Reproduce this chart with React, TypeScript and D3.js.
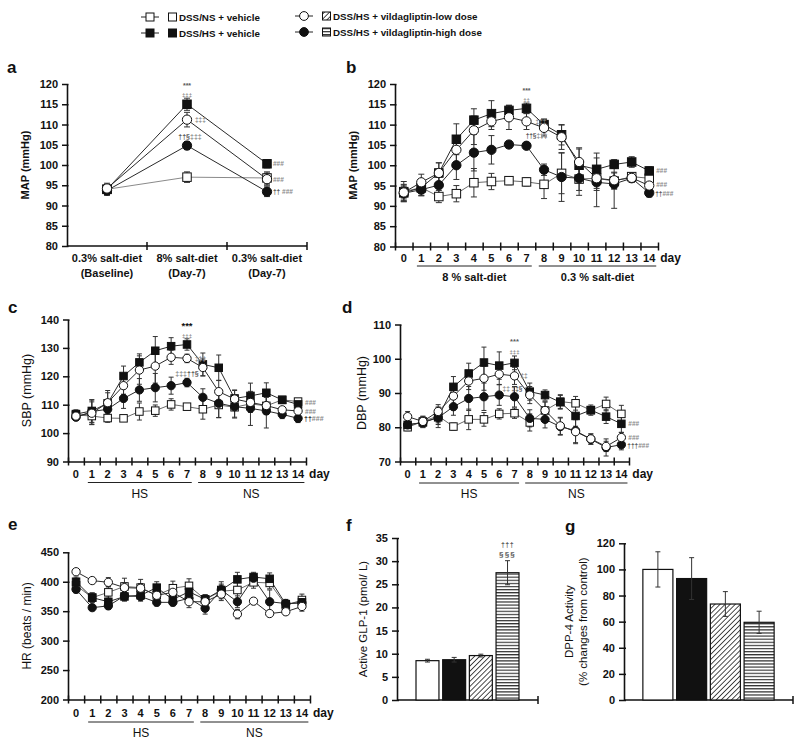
import React, { useEffect, useRef } from "react";
import * as d3 from "d3";

const FONT = "'Liberation Sans', Arial, Helvetica, sans-serif";

// groups (legend order)
const groupKeys = ["ns", "hs", "low", "high"];
const groupNames = [
  "DSS/NS + vehicle",
  "DSS/HS + vehicle",
  "DSS/HS + vildagliptin-low dose",
  "DSS/HS + vildagliptin-high dose",
];

// panel a: MAP at three stages
const stagesA = ["base", "hs7", "ns7"];
const stageLabels = [
  ["0.3% salt-diet", "(Baseline)"],
  ["8% salt-diet", "(Day-7)"],
  ["0.3% salt-diet", "(Day-7)"],
];
const mapA_ns = [94.0, 97.0, 96.8];
const mapA_hs = [94.0, 115.0, 100.3];
const mapA_low = [94.2, 111.2, 96.5];
const mapA_high = [93.7, 104.8, 93.4];
const mapA_nsErr = [1.5, 1.3, 1.5];
const mapA_hsErr = [1.2, 1.5, 1.0];
const mapA_lowErr = [1.0, 1.8, 1.5];
const mapA_highErr = [1.0, 1.0, 1.2];

// daily time course
const days = [0, 1, 2, 3, 4, 5, 6, 7, 8, 9, 10, 11, 12, 13, 14];

// panel b: MAP
const mapB_ns = [93.5, 94.5, 92.3, 93.0, 95.7, 96.0, 96.2, 95.9, 95.3, 98.0, 96.6, 96.8, 96.1, 97.2, 96.8];
const mapB_hs = [93.2, 94.5, 98.1, 106.4, 111.1, 112.7, 113.5, 114.0, 110.0, 107.5, 100.0, 99.0, 100.2, 100.8, 98.6];
const mapB_low = [93.3, 95.8, 98.1, 103.8, 108.6, 110.8, 111.8, 110.8, 109.2, 106.9, 100.8, 96.8, 96.3, 96.9, 95.0];
const mapB_high = [93.1, 94.0, 95.1, 100.0, 103.1, 103.8, 105.1, 104.8, 98.9, 97.1, 96.8, 95.8, 95.4, 96.8, 93.2];
const mapB_nsErr = [2.5, 2, 1.5, 2, 3.5, 2, 1, 1, 3.5, 5, 4, 3, 2, 1, 1.5];
const mapB_hsErr = [1.5, 1.5, 2.5, 3.8, 2.8, 3.2, 1.2, 1.3, 1.4, 2.5, 4, 4, 1, 1.3, 1];
const mapB_lowErr = [2, 2, 2.5, 3, 3.5, 2, 3, 2, 2, 3, 3.5, 2.5, 2, 1, 1.5];
const mapB_highErr = [2, 1.5, 2, 3.5, 4.5, 3.5, 0.8, 0.8, 1.4, 6, 3, 6, 6, 1, 1];

// panel c: SBP
const sbp_ns = [106.4, 106.0, 105.3, 105.2, 107.6, 107.9, 110.1, 109.3, 108.4, 109.9, 109.1, 110.3, 109.6, 111.7, 111.1];
const sbp_hs = [106.7, 107.8, 110.5, 120.1, 124.9, 129.0, 130.6, 131.2, 124.2, 123.0, 112.2, 113.1, 114.2, 111.7, 110.1];
const sbp_low = [106.0, 107.0, 110.7, 116.7, 122.2, 123.6, 126.7, 126.3, 123.1, 114.6, 112.0, 110.8, 109.7, 108.2, 107.8];
const sbp_high = [105.6, 107.6, 108.4, 112.2, 115.2, 116.0, 116.7, 117.8, 112.6, 110.5, 109.3, 108.7, 107.8, 106.6, 105.2];
const sbp_nsErr = [1.5, 3, 1.5, 1, 3, 2, 2, 1, 3.5, 4.5, 3.5, 3, 3, 1, 1];
const sbp_hsErr = [1.5, 4, 4.5, 3.5, 3, 5, 3, 2, 4, 4.5, 3, 4.5, 3.5, 1, 1];
const sbp_lowErr = [1.5, 4, 3.5, 3, 5, 6, 2.5, 1.5, 3, 4, 3, 3, 3, 1, 1];
const sbp_highErr = [1, 4, 2, 3.5, 4, 5, 3, 1.5, 3, 5, 4, 6, 6, 1.5, 1.5];

// panel d: DBP
const dbp_ns = [80.0, 81.7, 83.3, 80.2, 82.3, 82.3, 83.9, 84.1, 81.4, 84.9, 87.5, 87.0, 85.0, 86.8, 83.9];
const dbp_hs = [80.7, 81.4, 82.9, 91.8, 95.7, 98.9, 98.0, 98.8, 90.4, 89.4, 87.3, 83.3, 85.0, 83.1, 81.0];
const dbp_low = [83.1, 81.7, 84.6, 89.1, 93.5, 94.3, 95.5, 95.0, 89.4, 84.9, 80.4, 78.7, 76.6, 74.4, 77.0];
const dbp_high = [80.7, 81.4, 82.8, 86.0, 88.4, 88.9, 89.4, 88.9, 82.6, 82.3, 80.2, 79.0, 76.5, 74.1, 74.9];
const dbp_nsErr = [1, 1.5, 2.5, 1, 3, 2, 1.5, 1.5, 2.5, 2.5, 2, 2, 1.5, 2, 2.5];
const dbp_hsErr = [1, 1.5, 3, 3, 3, 4.5, 4, 2, 2.5, 1.5, 2, 3, 1, 2, 2.5];
const dbp_lowErr = [1.5, 1.5, 2, 2.5, 2.5, 3.5, 3, 2.5, 2.5, 2.5, 2.5, 3.5, 1.5, 1.5, 1.5];
const dbp_highErr = [1, 1.5, 1.5, 2.5, 3.5, 4, 3, 3, 2.5, 2.5, 2.5, 3.5, 1.5, 2.5, 1.5];

// panel e: HR
const hr_ns = [394, 373, 382, 392, 390, 377, 389, 393, 370, 384, 386, 399, 398, 360, 369];
const hr_hs = [400, 373, 366, 375, 377, 390, 370, 383, 370, 386, 404, 408, 405, 362, 365];
const hr_low = [417, 402, 399, 390, 389, 377, 382, 366, 366, 379, 345, 367, 346, 349, 358];
const hr_high = [387, 356, 359, 376, 375, 365, 365, 372, 355, 386, 366, 406, 366, 363, 364];
const hr_nsErr = [8, 8, 10, 14, 14, 10, 12, 12, 8, 16, 16, 10, 10, 8, 10];
const hr_hsErr = [8, 8, 10, 8, 8, 10, 8, 10, 8, 10, 12, 8, 10, 8, 8];
const hr_lowErr = [5, 5, 8, 8, 8, 8, 10, 10, 8, 8, 8, 5, 5, 5, 8];
const hr_highErr = [6, 5, 6, 8, 8, 6, 6, 8, 10, 8, 10, 8, 20, 6, 6];

// panel f / g: bars
const glp1 = [8.5, 8.7, 9.6, 27.5];
const glp1Err = [0.3, 0.5, 0.3, 2.6];
const dpp4 = [100, 93, 73.5, 59.5];
const dpp4Err = [13.5, 16, 9.5, 8.5];

const markerStyle: any = {
  ns: { shape: "square", fill: "#fff", line: "#6a6a6a" },
  hs: { shape: "square", fill: "#111", line: "#2a2a2a" },
  low: { shape: "circle", fill: "#fff", line: "#2a2a2a" },
  high: { shape: "circle", fill: "#111", line: "#2a2a2a" },
};
const barFill: any = { ns: "#fff", hs: "#111", low: "url(#diag)", high: "url(#hstripe)" };
const drawOrder = ["ns", "hs", "high", "low"];

const marker = (g: any, key: string, cx: number, cy: number, size: number) => {
  const s = markerStyle[key];
  if (s.shape === "square") {
    g.append("rect")
      .attr("x", cx - size / 2).attr("y", cy - size / 2)
      .attr("width", size).attr("height", size)
      .attr("fill", s.fill).attr("stroke", "#111").attr("stroke-width", 1);
  } else {
    g.append("circle")
      .attr("cx", cx).attr("cy", cy).attr("r", size / 2 + 0.4)
      .attr("fill", s.fill).attr("stroke", "#111").attr("stroke-width", 1);
  }
};

const errorBar = (g: any, cx: number, y1: number, y2: number, cap: number) => {
  g.append("line").attr("x1", cx).attr("x2", cx).attr("y1", y1).attr("y2", y2)
    .attr("stroke", "#333").attr("stroke-width", 1);
  [y1, y2].forEach((yy) =>
    g.append("line").attr("x1", cx - cap / 2).attr("x2", cx + cap / 2).attr("y1", yy).attr("y2", yy)
      .attr("stroke", "#333").attr("stroke-width", 1)
  );
};

const styleAxis = (ax: any, size = 11) => {
  ax.select(".domain").attr("stroke", "#111").attr("stroke-width", 1.6);
  ax.selectAll(".tick line").attr("stroke", "#111").attr("stroke-width", 1.5);
  ax.selectAll(".tick text")
    .attr("font-family", FONT).attr("font-size", size).attr("font-weight", "bold").attr("fill", "#111");
};

const label = (g: any, x: number, y: number, t: string, o: any = {}) =>
  g.append("text").attr("x", x).attr("y", y)
    .attr("font-family", FONT)
    .attr("font-size", o.size || 11)
    .attr("font-weight", o.weight || "normal")
    .attr("fill", o.color || "#111")
    .attr("text-anchor", o.anchor || "start")
    .attr("letter-spacing", o.ls || 0)
    .text(t);

// mixed-colour annotation (segments of [text, colour])
const note = (g: any, x: number, y: number, segs: [string, string][], size = 7, anchor = "start") => {
  const t = g.append("text").attr("x", x).attr("y", y)
    .attr("font-family", FONT).attr("font-size", size).attr("font-weight", "bold")
    .attr("text-anchor", anchor);
  segs.forEach(([s, c]) => t.append("tspan").attr("fill", c).text(s));
  return t;
};

const yTitle = (g: any, cx: number, cy: number, lines: string[], o: any = {}) => {
  const t = g.append("text")
    .attr("transform", `translate(${cx},${cy}) rotate(-90)`)
    .attr("text-anchor", "middle")
    .attr("font-family", FONT)
    .attr("font-size", o.size || 12)
    .attr("font-weight", o.weight || "normal")
    .attr("fill", "#111");
  lines.forEach((l, i) =>
    t.append("tspan").attr("x", 0).attr("dy", i === 0 ? "0.35em" : (o.gap || 14)).text(l)
  );
};

const G1 = "#8a8a8a"; // light annotation grey
const G2 = "#5a5a5a";

const dayPanel = (root: any, o: any) => {
  const x = d3.scaleLinear().domain([-0.5, 14.5]).range([o.left, o.right]);
  const y = d3.scaleLinear().domain(o.yDomain).range([o.bottom, o.top]);
  const g = root.append("g");

  const ya = g.append("g").attr("transform", `translate(${o.left},0)`)
    .call(d3.axisLeft(y).tickValues(o.yTicks).tickSizeInner(5).tickSizeOuter(0).tickPadding(4));
  styleAxis(ya);
  ya.selectAll(".tick line").attr("x1", 1.5);

  const xa = g.append("g").attr("transform", `translate(0,${o.bottom})`)
    .call(d3.axisBottom(x).tickValues(d3.range(-0.5, 15, 1)).tickSizeInner(4).tickSizeOuter(0).tickFormat(() => ""));
  styleAxis(xa);
  xa.selectAll(".tick line").attr("y1", -4).attr("y2", 4);

  days.forEach((d) => label(g, x(d), o.dayY, String(d), { size: 11, weight: "bold", anchor: "middle" }));
  label(g, x(14) + 11, o.dayY, "day", { size: 12, weight: "bold" });

  const phases: [number, number, string][] = [
    [0.75, 7.3, o.phases[0]],
    [7.7, 14.4, o.phases[1]],
  ];
  phases.forEach(([a, b, t]) => {
    g.append("line").attr("x1", x(a)).attr("x2", x(b)).attr("y1", o.lineY).attr("y2", o.lineY)
      .attr("stroke", "#222").attr("stroke-width", 1);
    label(g, (x(a) + x(b)) / 2, o.phaseY, t, { size: o.phaseSize, weight: o.phaseWeight, anchor: "middle" });
  });

  yTitle(g, o.yTitleX, (o.top + o.bottom) / 2, [o.yTitle], { size: o.yTitleSize, weight: o.yTitleWeight });
  label(g, o.letterX, o.letterY, o.letter, { size: 17, weight: "bold" });

  const line = d3.line<number>().x((_, i) => x(days[i])).y((v) => y(v));
  drawOrder.forEach((k) => {
    g.append("path").attr("d", line(o.series[k].v)).attr("fill", "none")
      .attr("stroke", markerStyle[k].line).attr("stroke-width", 1);
  });
  drawOrder.forEach((k) => {
    const s = o.series[k];
    s.v.forEach((v: number, i: number) => errorBar(g, x(days[i]), y(v + s.e[i]), y(v - s.e[i]), o.cap));
  });
  drawOrder.forEach((k) => {
    o.series[k].v.forEach((v: number, i: number) => marker(g, k, x(days[i]), y(v), o.mk));
  });
  return { g, x, y };
};

const barPanel = (root: any, o: any) => {
  const x = d3.scaleBand().domain(groupKeys).range(o.bandRange).paddingInner(o.pi).paddingOuter(o.po);
  const y = d3.scaleLinear().domain(o.yDomain).range([o.bottom, o.top]);
  const g = root.append("g");
  const ya = g.append("g").attr("transform", `translate(${o.left},0)`)
    .call(d3.axisLeft(y).tickValues(o.yTicks).tickSizeInner(5).tickSizeOuter(0).tickPadding(4));
  styleAxis(ya, o.tickSize || 11);
  ya.selectAll(".tick line").attr("x1", 2);
  g.append("line").attr("x1", o.left).attr("x2", o.right).attr("y1", o.bottom).attr("y2", o.bottom)
    .attr("stroke", "#111").attr("stroke-width", 1.6);
  g.append("line").attr("x1", o.right).attr("x2", o.right).attr("y1", o.bottom - 4).attr("y2", o.bottom + 4)
    .attr("stroke", "#111").attr("stroke-width", 1.5);

  groupKeys.forEach((k, i) => {
    const v = o.values[i];
    g.append("rect")
      .attr("x", x(k)).attr("y", y(v)).attr("width", x.bandwidth()).attr("height", y(0) - y(v))
      .attr("fill", barFill[k]).attr("stroke", "#111").attr("stroke-width", 1.2);
  });
  groupKeys.forEach((k, i) => {
    const v = o.values[i];
    const cx = (x(k) as number) + x.bandwidth() / 2;
    errorBar(g, cx, y(v + o.errors[i]), y(v - o.errors[i]), 5);
  });
  yTitle(g, o.yTitleX, (o.top + o.bottom) / 2, o.yTitle, { size: 11.5, gap: 14 });
  label(g, o.letterX, o.letterY, o.letter, { size: 17, weight: "bold" });
  return { g, x, y };
};

const App = () => {
  const ref = useRef<SVGSVGElement>(null);

  useEffect(() => {
    const svg = d3.select(ref.current);
    svg.selectAll("*").remove();
    svg.append("rect").attr("width", 800).attr("height", 742).attr("fill", "#fff");

    const defs = svg.append("defs");
    const diag = defs.append("pattern").attr("id", "diag").attr("patternUnits", "userSpaceOnUse")
      .attr("width", 3.6).attr("height", 3.6).attr("patternTransform", "rotate(45)");
    diag.append("rect").attr("width", 3.6).attr("height", 3.6).attr("fill", "#fff");
    diag.append("line").attr("x1", 0).attr("y1", 0).attr("x2", 0).attr("y2", 3.6)
      .attr("stroke", "#111").attr("stroke-width", 1.5);
    const hs = defs.append("pattern").attr("id", "hstripe").attr("patternUnits", "userSpaceOnUse")
      .attr("width", 4).attr("height", 3.1);
    hs.append("rect").attr("width", 4).attr("height", 3.1).attr("fill", "#fff");
    hs.append("line").attr("x1", 0).attr("x2", 4).attr("y1", 0.6).attr("y2", 0.6)
      .attr("stroke", "#333").attr("stroke-width", 1.2);

    // ---------- legend ----------
    const lg = svg.append("g");
    const legendPos = [
      [150, 17],
      [150, 33],
      [304, 16],
      [304, 32],
    ];
    groupKeys.forEach((k, i) => {
      const [mx, my] = legendPos[i];
      lg.append("line").attr("x1", mx - 9).attr("x2", mx + 9).attr("y1", my).attr("y2", my)
        .attr("stroke", "#222").attr("stroke-width", 1);
      marker(lg, k, mx, my, 8);
      lg.append("rect").attr("x", mx + 18.5).attr("y", my - 4).attr("width", 8).attr("height", 8)
        .attr("fill", barFill[k]).attr("stroke", "#111").attr("stroke-width", 1);
      label(lg, mx + 29, my + 3.5, groupNames[i], { size: 9.8, weight: "bold" });
    });

    // ---------- panel a ----------
    {
      const left = 67, right = 307, top = 84, bottom = 246;
      const x = d3.scaleBand().domain(stagesA).range([left, right]);
      const y = d3.scaleLinear().domain([80, 120]).range([bottom, top]);
      const g = svg.append("g");
      const ya = g.append("g").attr("transform", `translate(${left},0)`)
        .call(d3.axisLeft(y).tickValues([80, 85, 90, 95, 100, 105, 110, 115, 120]).tickSizeInner(5).tickSizeOuter(0).tickPadding(4));
      styleAxis(ya);
      ya.selectAll(".tick line").attr("x1", 1.5);
      g.append("line").attr("x1", left).attr("x2", right).attr("y1", bottom).attr("y2", bottom)
        .attr("stroke", "#111").attr("stroke-width", 1.6);
      stagesA.forEach((s) => {
        const tx = (x(s) as number) + x.step();
        g.append("line").attr("x1", tx).attr("x2", tx).attr("y1", bottom - 4).attr("y2", bottom + 4)
          .attr("stroke", "#111").attr("stroke-width", 1.5);
      });
      const cx = (s: string) => (x(s) as number) + x.bandwidth() / 2;
      stagesA.forEach((s, i) => {
        label(g, cx(s), 262, stageLabels[i][0], { size: 11, weight: "bold", anchor: "middle" });
        label(g, cx(s), 277, stageLabels[i][1], { size: 11, weight: "bold", anchor: "middle" });
      });
      yTitle(g, 25, (top + bottom) / 2, ["MAP (mmHg)"], { size: 11, weight: "bold" });
      label(g, 7, 73, "a", { size: 17, weight: "bold" });

      const ser: any = {
        ns: { v: mapA_ns, e: mapA_nsErr },
        hs: { v: mapA_hs, e: mapA_hsErr },
        low: { v: mapA_low, e: mapA_lowErr },
        high: { v: mapA_high, e: mapA_highErr },
      };
      const line = d3.line<number>().x((_, i) => cx(stagesA[i])).y((v) => y(v));
      drawOrder.forEach((k) => g.append("path").attr("d", line(ser[k].v)).attr("fill", "none")
        .attr("stroke", k === "ns" ? "#8a8a8a" : "#2a2a2a").attr("stroke-width", 1));
      drawOrder.forEach((k) => ser[k].v.forEach((v: number, i: number) =>
        errorBar(g, cx(stagesA[i]), y(v + ser[k].e[i]), y(v - ser[k].e[i]), 6)));
      drawOrder.forEach((k) => ser[k].v.forEach((v: number, i: number) => marker(g, k, cx(stagesA[i]), y(v), 8.5)));

      const c1 = cx("hs7"), c2 = cx("ns7");
      note(g, c1, 88, [["***", G2]], 7, "middle");
      note(g, c1, 97, [["‡‡‡", G1]], 6, "middle");
      note(g, c1 + 8, y(mapA_low[1]) + 2.5, [["‡‡‡", G1]], 6.5);
      note(g, c1 + 3, y(mapA_high[1]) - 7, [["††§", G2], ["‡‡‡", G1]], 7, "middle");
      note(g, c2 + 6, y(mapA_hs[2]) + 2.5, [["###", G1]], 6.5);
      note(g, c2 + 6, y(mapA_low[2]) + 2.5, [["###", G1]], 6.5);
      note(g, c2 + 6, y(mapA_high[2]) + 2.5, [["†† ", G2], ["###", G1]], 6.5);
    }

    // ---------- panel b ----------
    {
      const { g, x, y } = dayPanel(svg, {
        left: 395, right: 658, top: 84, bottom: 246.5,
        yDomain: [80, 120], yTicks: [80, 85, 90, 95, 100, 105, 110, 115, 120],
        dayY: 262, lineY: 266, phaseY: 281, phases: ["8 % salt-diet", "0.3 % salt-diet"],
        phaseSize: 11, phaseWeight: "bold",
        yTitle: "MAP (mmHg)", yTitleX: 353, yTitleSize: 11, yTitleWeight: "bold",
        letter: "b", letterX: 346, letterY: 73, mk: 8.5, cap: 6,
        series: {
          ns: { v: mapB_ns, e: mapB_nsErr },
          hs: { v: mapB_hs, e: mapB_hsErr },
          low: { v: mapB_low, e: mapB_lowErr },
          high: { v: mapB_high, e: mapB_highErr },
        },
      });
      note(g, x(7), 93, [["***", G2]], 7, "middle");
      note(g, x(7), 102, [["‡‡", G1]], 6, "middle");
      note(g, x(7) + 9, y(mapB_low[7]) + 2.5, [["‡‡‡", G1]], 6.5);
      note(g, x(7) + 10, 138, [["††§", G2], ["‡‡‡", G1]], 6.5, "middle");
      note(g, x(14) + 7, y(mapB_hs[14]) + 2.5, [["###", G1]], 6.5);
      note(g, x(14) + 7, y(mapB_low[14]) + 1, [["###", G1]], 6.5);
      note(g, x(14) + 6, y(mapB_high[14]) + 3, [["††", G2], ["###", G1]], 6.5);
    }

    // ---------- panel c ----------
    {
      const { g, x, y } = dayPanel(svg, {
        left: 68, right: 306, top: 319.5, bottom: 461.5,
        yDomain: [90, 140], yTicks: [90, 100, 110, 120, 130, 140],
        dayY: 478, lineY: 482.5, phaseY: 498, phases: ["HS", "NS"],
        phaseSize: 12, phaseWeight: "normal",
        yTitle: "SBP (mmHg)", yTitleX: 27, yTitleSize: 12.5, yTitleWeight: "normal",
        letter: "c", letterX: 8, letterY: 313, mk: 7.5, cap: 5,
        series: {
          ns: { v: sbp_ns, e: sbp_nsErr },
          hs: { v: sbp_hs, e: sbp_hsErr },
          low: { v: sbp_low, e: sbp_lowErr },
          high: { v: sbp_high, e: sbp_highErr },
        },
      });
      note(g, x(7), 329, [["***", "#111"]], 9.5, "middle");
      note(g, x(7), 338, [["‡‡‡", G1]], 6, "middle");
      note(g, x(7) + 8, y(sbp_low[7]) + 2.5, [["‡‡‡", G1]], 6.5);
      note(g, x(7), 376, [["‡‡‡", G1], ["††§", G2]], 7, "middle");
      note(g, x(14) + 7, y(sbp_hs[14]) + 1, [["###", G1]], 6.5);
      note(g, x(14) + 7, y(sbp_low[14]) + 3, [["###", G1]], 6.5);
      note(g, x(14) + 6, y(sbp_high[14]) + 3, [["††", "#333"], ["###", G1]], 7);
    }

    // ---------- panel d ----------
    {
      const { g, x, y } = dayPanel(svg, {
        left: 400, right: 629, top: 324.5, bottom: 461.5,
        yDomain: [70, 110], yTicks: [70, 80, 90, 100, 110],
        dayY: 478, lineY: 483, phaseY: 498, phases: ["HS", "NS"],
        phaseSize: 12, phaseWeight: "normal",
        yTitle: "DBP (mmHg)", yTitleX: 362, yTitleSize: 12.5, yTitleWeight: "normal",
        letter: "d", letterX: 342, letterY: 313, mk: 7.5, cap: 5,
        series: {
          ns: { v: dbp_ns, e: dbp_nsErr },
          hs: { v: dbp_hs, e: dbp_hsErr },
          low: { v: dbp_low, e: dbp_lowErr },
          high: { v: dbp_high, e: dbp_highErr },
        },
      });
      note(g, x(7), 344, [["***", G2]], 7.5, "middle");
      note(g, x(7), 354, [["‡‡‡", G1]], 6, "middle");
      note(g, x(7) + 6, y(dbp_low[7]) + 2.5, [["‡‡", G1]], 6.5);
      note(g, x(7) - 2, 391, [["‡‡  ", G1], ["‡‡§", G2]], 6.5, "middle");
      note(g, x(14) + 7, y(dbp_hs[14]) + 2.5, [["###", G1]], 6.5);
      note(g, x(14) + 7, y(dbp_low[14]) + 2.5, [["###", G1]], 6.5);
      note(g, x(14) + 6, y(dbp_high[14]) + 3, [["†††", G2], ["###", G1]], 6.5);
    }

    // ---------- panel e ----------
    dayPanel(svg, {
      left: 68, right: 310, top: 552.3, bottom: 699.5,
      yDomain: [200, 450], yTicks: [200, 250, 300, 350, 400, 450],
      dayY: 717, lineY: 722, phaseY: 737, phases: ["HS", "NS"],
      phaseSize: 12, phaseWeight: "normal",
      yTitle: "HR (beats / min)", yTitleX: 27, yTitleSize: 12, yTitleWeight: "normal",
      letter: "e", letterX: 8, letterY: 530, mk: 7.5, cap: 5,
      series: {
        ns: { v: hr_ns, e: hr_nsErr },
        hs: { v: hr_hs, e: hr_hsErr },
        low: { v: hr_low, e: hr_lowErr },
        high: { v: hr_high, e: hr_highErr },
      },
    });

    // ---------- panel f ----------
    {
      const { g, x, y } = barPanel(svg, {
        left: 397, right: 538, top: 538, bottom: 700,
        bandRange: [412, 523], pi: 0.14, po: 0.15,
        yDomain: [0, 35], yTicks: [0, 5, 10, 15, 20, 25, 30, 35], tickSize: 11,
        values: glp1, errors: glp1Err,
        yTitle: ["Active GLP-1 (pmol/ L)"], yTitleX: 363,
        letter: "f", letterX: 346, letterY: 531,
      });
      const cx = (x("high") as number) + x.bandwidth() / 2;
      note(g, cx, y(glp1[3] + glp1Err[3]) - 14, [["†††", G2]], 7, "middle").attr("letter-spacing", 0.5);
      note(g, cx, y(glp1[3] + glp1Err[3]) - 4, [["§§§", G2]], 8, "middle").attr("letter-spacing", 1.2);
    }

    // ---------- panel g ----------
    barPanel(svg, {
      left: 624, right: 793, top: 543.3, bottom: 700,
      bandRange: [626, 791], pi: 0.11, po: 0.5,
      yDomain: [0, 120], yTicks: [0, 20, 40, 60, 80, 100, 120], tickSize: 11,
      values: dpp4, errors: dpp4Err,
      yTitle: ["DPP-4 Activity", "(%  changes from control)"], yTitleX: 569,
      letter: "g", letterX: 565, letterY: 532,
    });
  }, []);

  return (
    <svg
      ref={ref}
      width={800}
      height={742}
      style={{ position: "absolute", left: 0, top: 0, display: "block" }}
    />
  );
};

export default App;
